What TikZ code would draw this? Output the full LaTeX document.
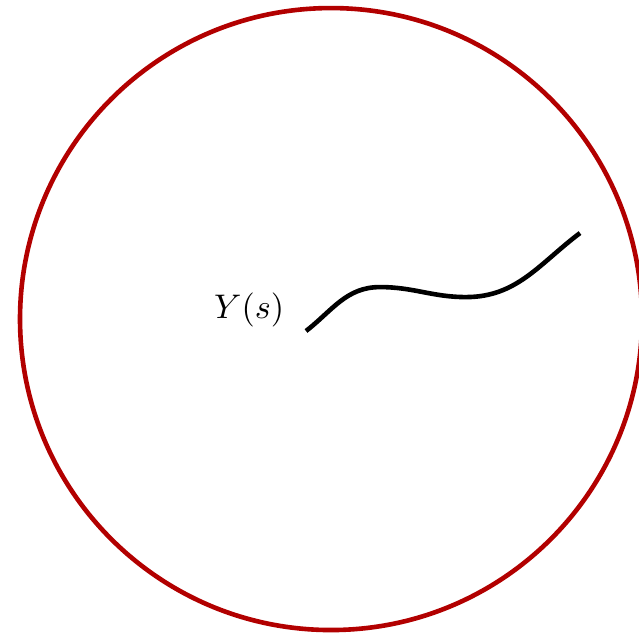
\documentclass[tikz,border=0pt]{standalone}
\usepackage{tikz}
\usetikzlibrary{positioning}

\begin{document}
\begin{tikzpicture}[
  ball/.style={draw=red!70!black, line width=1.35pt},
  path line/.style={draw=black, line width=1.35pt},
]
\clip (-3.406,-3.241) rectangle (3.169,3.283);

% ball
\node[ball, circle, minimum size=6.4cm, inner sep=0pt] (ball) at (0,0) {};

% curve
\coordinate (start) at (-0.257,-0.123);
\coordinate (peak) at (0.504,0.329);
\coordinate (dip) at (1.389,0.226);
\coordinate (end) at (2.562,0.885);
\draw[path line] (start) to[out=38,in=180] (peak) to[out=0,in=180] (dip) to[out=0,in=217] (end);

% label
\node[left=0.1cm of start, yshift=0.22cm] (label) {$Y(s)$};

\end{tikzpicture}
\end{document}
